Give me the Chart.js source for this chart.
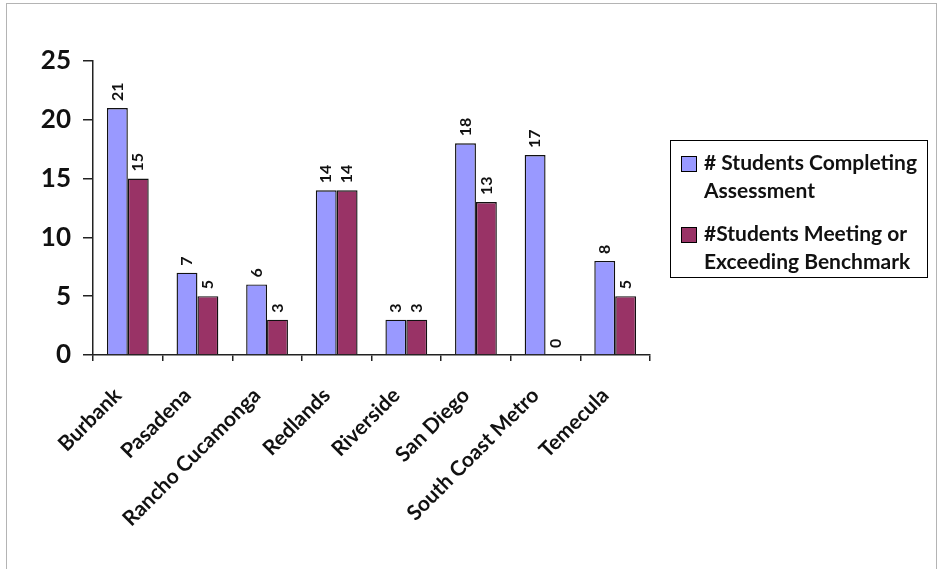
<!DOCTYPE html>
<html>
<head>
<meta charset="utf-8">
<script src="https://cdn.jsdelivr.net/npm/chart.js@4"></script>
<style>
  html, body { margin: 0; padding: 0; background: #fff; }
  #wrap { position: relative; width: 938px; height: 569px; overflow: hidden; }
  #frame { position: absolute; left: 6px; top: 3px; width: 929px; height: 620px; border: 1px solid #b4b4b4; }
  #chart { position: absolute; left: 0; top: 0; }
  #legend {
    position: absolute; left: 670px; top: 140px; width: 258px; height: 138px;
    border: 1px solid #000; box-sizing: border-box;
    font: bold 21px Lato, sans-serif; color: #111; padding: 7px 0 0 10px;
  }
  .item { display: flex; align-items: flex-start; margin-bottom: 15px; line-height: 28px; white-space: nowrap; }
  .swatch { width: 14px; height: 14px; border: 1px solid #000; margin: 8px 7px 0 0; flex: none; }
</style>
</head>
<body>
<div id="wrap">
  <div id="frame"></div>
  <canvas id="chart" width="938" height="569"></canvas>
  <div id="legend"></div>
</div>
<script>
// ── Data ───────────────────────────────────────────
const sites      = ['Burbank', 'Pasadena', 'Rancho Cucamonga', 'Redlands', 'Riverside', 'San Diego', 'South Coast Metro', 'Temecula'];
const completing = [21, 7, 6, 14, 3, 18, 17, 8];
const meeting    = [15, 5, 3, 14, 3, 13, 0, 5];
const seriesNames = [['# Students Completing', 'Assessment'], ['#Students Meeting or', 'Exceeding Benchmark']];
const seriesColors = ['#9999ff', '#993366'];
const yTicks = [0, 5, 10, 15, 20, 25];

// ── Value labels, rotated above each bar ───────────
const valueLabels = {
  id: 'valueLabels',
  afterDatasetsDraw(chart) {
    const ctx = chart.ctx;
    ctx.save();
    ctx.font = 'bold 16px Lato, sans-serif';
    ctx.fillStyle = '#111';
    ctx.textAlign = 'left';
    ctx.textBaseline = 'middle';
    chart.data.datasets.forEach((ds, i) => {
      chart.getDatasetMeta(i).data.forEach((bar, j) => {
        ctx.save();
        ctx.translate(bar.x, bar.y - 7);
        ctx.rotate(-Math.PI / 2);
        ctx.fillText(String(ds.data[j]), 0, 0);
        ctx.restore();
      });
    });
    ctx.restore();
  }
};

const chart = new Chart(document.getElementById('chart'), {
  type: 'bar',
  data: {
    labels: sites,
    datasets: [completing, meeting].map((d, i) => ({
      label: seriesNames[i].join(' '),
      data: d,
      backgroundColor: seriesColors[i],
      borderColor: '#111',
      borderWidth: 1.4,
      categoryPercentage: 0.6,
      barPercentage: 1.0,
    }))
  },
  options: {
    responsive: false,
    animation: false,
    layout: { padding: { left: 0, top: 61, right: 288, bottom: 0 } },
    plugins: { legend: { display: false }, tooltip: { enabled: false } },
    scales: {
      x: {
        afterFit: s => { s.height = 214; },
        grid: { offset: true, drawOnChartArea: false, tickLength: 6, color: '#222', lineWidth: 1.5 },
        border: { color: '#222', width: 1.5 },
        ticks: {
          minRotation: 45, maxRotation: 45, padding: 22, labelOffset: -10,
          color: '#111', font: { family: 'Lato, sans-serif', weight: 'bold', size: 21 }
        }
      },
      y: {
        min: 0, max: 25,
        afterFit: s => { s.width = 93; },
        afterBuildTicks: s => { s.ticks = yTicks.map(v => ({ value: v })); },
        grid: { drawOnChartArea: false, tickLength: 10, color: '#222', lineWidth: 1.5 },
        border: { color: '#222', width: 1.5 },
        ticks: {
          padding: 12, color: '#111',
          font: { family: 'Lato, sans-serif', weight: 'bold', size: 26 }
        }
      }
    }
  },
  plugins: [valueLabels]
});

// ── Legend box ─────────────────────────────────────
const legend = document.getElementById('legend');
seriesNames.forEach((lines, i) => {
  const item = document.createElement('div');
  item.className = 'item';
  const sw = document.createElement('span');
  sw.className = 'swatch';
  sw.style.background = seriesColors[i];
  const txt = document.createElement('span');
  txt.innerHTML = lines.join('<br>');
  item.appendChild(sw);
  item.appendChild(txt);
  legend.appendChild(item);
});
</script>
</body>
</html>
